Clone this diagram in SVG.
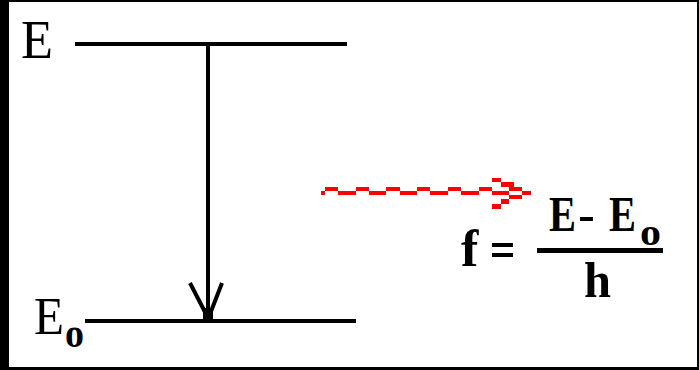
<svg xmlns="http://www.w3.org/2000/svg" width="699" height="370" viewBox="0 0 699 370">
<style>
.t{font-family:"Liberation Serif","Times New Roman",serif;fill:#000}
.ln{stroke:#000;fill:none}
.r{fill:#f00}
</style>
<rect x="0" y="0" width="699" height="370" fill="#fff"/>
<g id="frame">
<rect x="0" y="0" width="9" height="370" fill="#000"/>
<rect x="0" y="0" width="699" height="2" fill="#000"/>
<rect x="697" y="0" width="2" height="370" fill="#000"/>
<rect x="0" y="367" width="699" height="3" fill="#000"/>
</g>
<g id="level-E">
<text class="t" x="21" y="58" font-size="54" textLength="32" lengthAdjust="spacingAndGlyphs">E</text>
<rect x="75" y="42" width="272" height="4" fill="#000"/>
</g>
<g id="level-E0">
<text class="t" x="34" y="334" font-size="52" textLength="30" lengthAdjust="spacingAndGlyphs">E</text>
<text class="t" x="65" y="347" font-size="40" font-weight="bold" textLength="19" lengthAdjust="spacingAndGlyphs">o</text>
<rect x="85" y="319" width="271" height="4" fill="#000"/>
</g>
<g id="connectors">
<rect x="206" y="44" width="4" height="270" fill="#000"/>
<path class="ln" stroke-width="4" d="M190,283 L206,314 M222,283 L210,314"/>
<path d="M203,308 L213,308 L213,319 L203,319 Z" fill="#000"/>
</g>
<g id="photon">
<rect class="r" x="321" y="191" width="4" height="4"/>
<rect class="r" x="325" y="187" width="13" height="4"/>
<rect class="r" x="338" y="191" width="18" height="4"/>
<rect class="r" x="356" y="187" width="13" height="4"/>
<rect class="r" x="369" y="191" width="17" height="4"/>
<rect class="r" x="386" y="187" width="14" height="4"/>
<rect class="r" x="400" y="191" width="17" height="4"/>
<rect class="r" x="417" y="187" width="13" height="4"/>
<rect class="r" x="430" y="191" width="18" height="4"/>
<rect class="r" x="448" y="187" width="13" height="4"/>
<rect class="r" x="461" y="191" width="18" height="4"/>
<rect class="r" x="479" y="187" width="13" height="4"/>
<rect class="r" x="492" y="191" width="17" height="4"/>
<rect class="r" x="492" y="178" width="9" height="4"/>
<rect class="r" x="501" y="182" width="13" height="5"/>
<rect class="r" x="509" y="187" width="13" height="4"/>
<rect class="r" x="522" y="191" width="9" height="4"/>
<rect class="r" x="509" y="195" width="13" height="4"/>
<rect class="r" x="501" y="199" width="8" height="5"/>
<rect class="r" x="492" y="204" width="9" height="5"/>
</g>
<g id="formula">
<text class="t" x="461" y="266" font-size="52" font-weight="bold">f</text>
<rect x="492" y="243" width="21" height="4" fill="#000"/>
<rect x="492" y="253" width="21" height="4" fill="#000"/>
<text class="t" x="549" y="231" font-size="50" font-weight="bold" textLength="27" lengthAdjust="spacingAndGlyphs">E</text>
<rect x="580" y="217" width="13" height="4" fill="#000"/>
<text class="t" x="609" y="231" font-size="50" font-weight="bold" textLength="27" lengthAdjust="spacingAndGlyphs">E</text>
<text class="t" x="640" y="245" font-size="38" font-weight="bold" textLength="21" lengthAdjust="spacingAndGlyphs">o</text>
<rect x="537" y="248" width="126" height="5" fill="#000"/>
<text class="t" x="584" y="297" font-size="50" font-weight="bold" textLength="27" lengthAdjust="spacingAndGlyphs">h</text>
</g>
</svg>
